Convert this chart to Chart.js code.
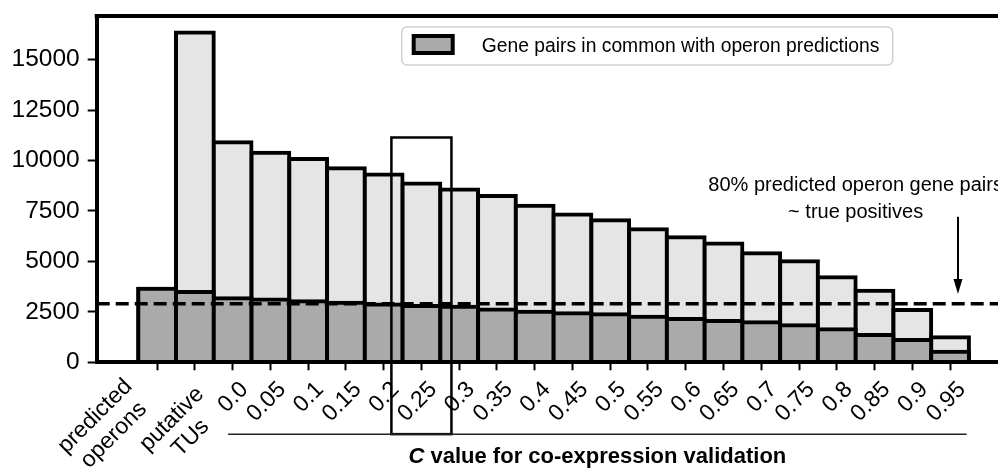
<!DOCTYPE html>
<html>
<head>
<meta charset="utf-8">
<script src="https://cdn.jsdelivr.net/npm/chart.js@4.4.1/dist/chart.umd.min.js"></script>
<style>
  html, body { margin: 0; padding: 0; background: #fff; }
  #wrap { width: 998px; height: 471px; position: relative; }
</style>
</head>
<body>
<div id="wrap"><canvas id="chart"></canvas></div>
<script>
// values
const categories = [["predicted", "operons"], ["putative", "TUs"], "0.0", "0.05", "0.1", "0.15", "0.2", "0.25", "0.3", "0.35",
    "0.4", "0.45", "0.5", "0.55", "0.6", "0.65", "0.7", "0.75", "0.8", "0.85", "0.9", "0.95"];
const totalPairs = [3640, 16340, 10910, 10380, 10070, 9610, 9310, 8860, 8560, 8240, 7760,
    7330, 7040, 6590, 6200, 5890, 5400, 5010, 4220, 3550, 2590, 1240];
const commonPairs = [3640, 3480, 3170, 3110, 3030, 2950, 2870, 2790, 2750, 2620, 2500,
    2430, 2380, 2260, 2150, 2045, 1980, 1840, 1640, 1350, 1100, 525];
const yTicks = [0, 2500, 5000, 7500, 10000, 12500, 15000];
const threshold = 2900; // ~80% of predicted operon gene pairs
const legendText = "Gene pairs in common with operon predictions";
const noteLines = ["80% predicted operon gene pairs", "~ true positives"];

const xMin = -1.6, xMax = 22.27, yMax = 17160;
const FONT = "'Liberation Sans', Arial, Helvetica, sans-serif";

Chart.defaults.font.family = FONT;
Chart.defaults.color = "#000";

const extras = {
    id: "extras",
    afterDraw(chart) {
        const ctx = chart.ctx;
        const xs = chart.scales.x;
        const ys = chart.scales.y;
        const area = chart.chartArea;
        ctx.save();
        ctx.strokeStyle = "#000";
        ctx.fillStyle = "#000";

        // top of the frame
        ctx.lineWidth = 4;
        ctx.beginPath();
        ctx.moveTo(area.left - 2, area.top);
        ctx.lineTo(area.right, area.top);
        ctx.stroke();

        // two-line tick labels
        const shifts = [[-62, 54], [-23, 57]];
        ctx.font = "23px " + FONT;
        ctx.textAlign = "center";
        ctx.textBaseline = "middle";
        categories.forEach((c, i) => {
            if (!Array.isArray(c)) return;
            const s = shifts[i];
            ctx.save();
            ctx.translate(xs.getPixelForValue(i) + s[0], xs.top + s[1]);
            ctx.rotate(-Math.PI / 4);
            c.forEach((line, k) => ctx.fillText(line, 0, k * 26.5));
            ctx.restore();
        });

        // box round the 0.25 column
        const rx1 = xs.getPixelForValue(7 - 0.795);
        const rx2 = xs.getPixelForValue(7 + 0.795);
        const ry1 = ys.getPixelForValue(11140);
        const ry2 = ys.getPixelForValue(-3560);
        ctx.lineWidth = 2.5;
        ctx.strokeRect(rx1, ry1, rx2 - rx1, ry2 - ry1);

        // bracket under the C values
        const bx1 = xs.getPixelForValue(1.88);
        const bx2 = xs.getPixelForValue(21.44);
        ctx.strokeStyle = "#222";
        ctx.lineWidth = 1.5;
        ctx.beginPath();
        ctx.moveTo(bx1, ry2);
        ctx.lineTo(bx2, ry2);
        ctx.stroke();

        // axis title, C in italics
        const partC = "C";
        const partRest = " value for co-expression validation";
        ctx.textAlign = "left";
        ctx.textBaseline = "alphabetic";
        ctx.font = "italic bold 22px " + FONT;
        const wC = ctx.measureText(partC).width;
        ctx.font = "bold 22px " + FONT;
        const wR = ctx.measureText(partRest).width;
        const tx = (bx1 + bx2) / 2 - (wC + wR) / 2;
        const ty = ry2 + 29;
        ctx.font = "italic bold 22px " + FONT;
        ctx.fillText(partC, tx, ty);
        ctx.font = "bold 22px " + FONT;
        ctx.fillText(partRest, tx + wC, ty);

        // note and arrow
        ctx.font = "20px " + FONT;
        ctx.textAlign = "center";
        ctx.textBaseline = "middle";
        const nx = xs.getPixelForValue(18.5);
        const ny = ys.getPixelForValue(8750);
        noteLines.forEach((t, k) => ctx.fillText(t, nx, ny + k * 27));

        const ax = xs.getPixelForValue(21.21);
        const ay1 = ys.getPixelForValue(7210);
        const ay2 = ys.getPixelForValue(3380);
        ctx.strokeStyle = "#000";
        ctx.lineWidth = 2;
        ctx.beginPath();
        ctx.moveTo(ax, ay1);
        ctx.lineTo(ax, ay2 - 10);
        ctx.stroke();
        ctx.beginPath();
        ctx.moveTo(ax, ay2);
        ctx.lineTo(ax - 4.5, ay2 - 15);
        ctx.lineTo(ax + 4.5, ay2 - 15);
        ctx.closePath();
        ctx.fill();

        // legend
        const lx = area.left + 305, ly = area.top + 11, lw = 491, lh = 38;
        ctx.beginPath();
        ctx.roundRect(lx, ly, lw, lh, 5);
        ctx.fillStyle = "rgba(255,255,255,0.8)";
        ctx.fill();
        ctx.strokeStyle = "#d0d0d0";
        ctx.lineWidth = 1.5;
        ctx.stroke();
        ctx.fillStyle = "#aaaaaa";
        ctx.fillRect(lx + 12, ly + 9, 39, 17);
        ctx.strokeStyle = "#000";
        ctx.lineWidth = 4;
        ctx.strokeRect(lx + 12, ly + 9, 39, 17);
        ctx.fillStyle = "#000";
        ctx.font = "19.3px " + FONT;
        ctx.textAlign = "left";
        ctx.textBaseline = "alphabetic";
        ctx.fillText(legendText, lx + 80, ly + 25);

        ctx.restore();
    }
};

new Chart(document.getElementById("chart"), {
    type: "bar",
    data: {
        datasets: [
            {
                type: "line",
                data: [{ x: xMin, y: threshold }, { x: xMax, y: threshold }],
                borderColor: "#000",
                borderWidth: 3.5,
                borderDash: [13, 6],
                pointRadius: 0,
                order: 0,
            },
            {
                label: legendText,
                data: commonPairs.map((v, i) => ({ x: i, y: v })),
                backgroundColor: "#aaaaaa",
                borderColor: "#000",
                borderWidth: 4,
                inflateAmount: 2,
                grouped: false,
                categoryPercentage: 1,
                barPercentage: 1,
                order: 1,
            },
            {
                data: totalPairs.map((v, i) => ({ x: i, y: v })),
                backgroundColor: "#e5e5e5",
                borderColor: "#000",
                borderWidth: 4,
                inflateAmount: 2,
                grouped: false,
                categoryPercentage: 1,
                barPercentage: 1,
                order: 2,
            },
        ],
    },
    options: {
        responsive: true,
        maintainAspectRatio: false,
        animation: false,
        layout: { padding: { top: 16, right: 0, bottom: 0, left: 0 } },
        plugins: {
            legend: { display: false },
            tooltip: { enabled: false },
        },
        scales: {
            x: {
                type: "linear",
                min: xMin,
                max: xMax,
                offset: false,
                grid: {
                    offset: false,
                    drawOnChartArea: false,
                    tickLength: 8,
                    tickWidth: 2,
                    tickColor: "#000",
                },
                border: { color: "#000", width: 4, z: 1 },
                afterBuildTicks: (scale) => {
                    scale.ticks = categories.map((_, i) => ({ value: i }));
                },
                afterFit: (scale) => {
                    scale.height = 108.7;
                    scale.paddingLeft = 0;
                    scale.paddingRight = 0;
                },
                ticks: {
                    autoSkip: false,
                    minRotation: 45,
                    maxRotation: 45,
                    labelOffset: 12,
                    padding: 6,
                    font: { size: 23 },
                    color: "#000",
                    callback: (value) => {
                        const c = categories[value];
                        return Array.isArray(c) ? "" : c;
                    },
                },
            },
            y: {
                min: 0,
                max: yMax,
                grid: {
                    drawOnChartArea: false,
                    tickLength: 9,
                    tickWidth: 2,
                    tickColor: "#000",
                },
                border: { color: "#000", width: 4, z: 1 },
                afterBuildTicks: (scale) => {
                    scale.ticks = yTicks.map((v) => ({ value: v }));
                },
                afterFit: (scale) => {
                    scale.width = 96.7;
                    scale.paddingTop = 0;
                    scale.paddingBottom = 0;
                },
                ticks: {
                    padding: 8,
                    font: { size: 24.5 },
                    color: "#000",
                    callback: (value) => String(value),
                },
            },
        },
    },
    plugins: [extras],
});
</script>
</body>
</html>
